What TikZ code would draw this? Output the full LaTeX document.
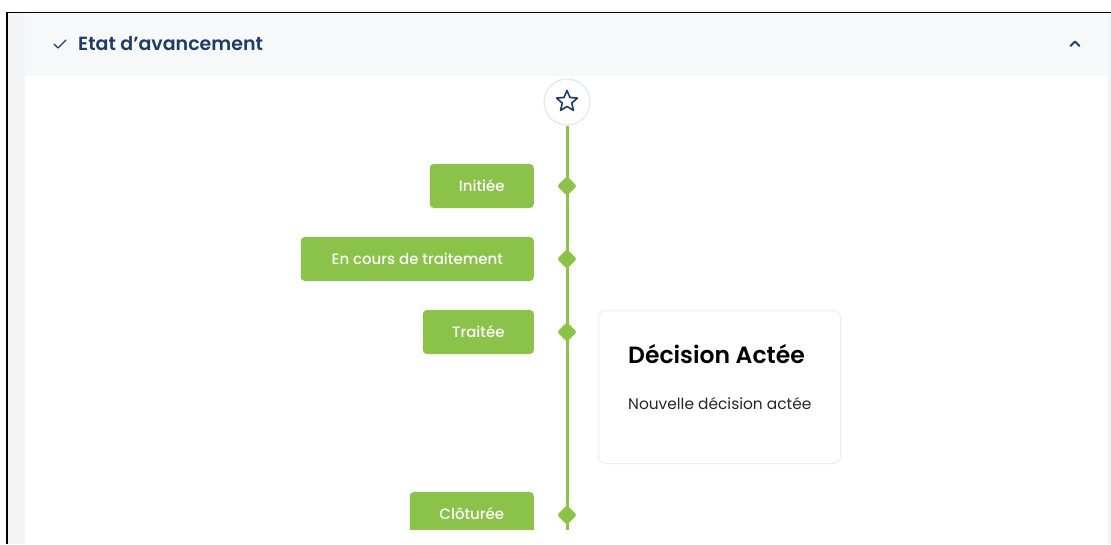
\documentclass[tikz,border=0pt]{standalone}
\usepackage{fontspec}
\IfFontExistsTF{Poppins SemiBold}{\setmainfont{Poppins}[BoldFont=Poppins SemiBold]}{\setmainfont{Poppins}}
\IfFontExistsTF{Poppins Medium}{\newfontfamily\popmed{Poppins Medium}}{\newfontfamily\popmed{Poppins}}
\usetikzlibrary{shapes.geometric}
\definecolor{grn}{HTML}{8BC34A}
\definecolor{navy}{HTML}{1E3D66}
\definecolor{bandgray}{HTML}{F7F8FA}
\definecolor{stripgray}{HTML}{F3F4F6}
\definecolor{cardline}{HTML}{EDEFF2}
\definecolor{circline}{HTML}{E3E7EC}
\tikzset{
  status/.style={fill=grn, text=white, rounded corners=4pt, anchor=east,
    minimum height=44pt, inner xsep=0pt, font=\popmed\fontsize{15}{18}\selectfont},
  knot/.style={diamond, fill=grn, inner sep=0pt, minimum size=20pt, rounded corners=2.5pt},
}
\begin{document}
\begin{tikzpicture}[x=1pt,y=-1pt]
\useasboundingbox (0,0) rectangle (1111,544);
\fill[white] (0,0) rectangle (1111,544);
% side strips and header band
\fill[stripgray] (8,13) rectangle (25,544);
\fill[stripgray] (1108,13) rectangle (1111,544);
\fill[bandgray] (25,13) rectangle (1108,76);
% black frame
\draw[black, line width=1.6pt] (7,544) -- (7,12.5) -- (1111,12.5);
% header
\node[anchor=base west, text=navy, font=\fontsize{19}{22}\selectfont\bfseries, inner sep=0pt] (title) at (78,50) {Etat d’avancement};
\draw[navy, line width=1.2pt, line cap=round, line join=round] (54,44) -- (58,48) -- (66,40);
\draw[navy, line width=2pt, line cap=round, line join=round] (1070.5,46) -- (1075,41.5) -- (1079.5,46);
\begin{scope}
\clip (25,76) rectangle (1108,529);
% star circle
\node[circle, draw=circline, line width=1.2pt, fill=white, minimum size=46pt, inner sep=0pt] (circ) at (567,102) {};
\node[star, star points=5, star point ratio=2.2, draw=navy, line width=1.6pt, line join=round, minimum size=22pt, inner sep=0pt] (star) at (567,101.5) {};
% timeline
\coordinate (tend) at (567,560);
\draw[grn, line width=3pt] (circ.south) -- (tend);
\node[knot] (k1) at (567,186) {};
\node[knot] (k2) at (567,259) {};
\node[knot] (k3) at (567,332) {};
\node[knot] (k4) at (567,515) {};
% status boxes
\node[status, minimum width=104pt] (s1) at (534,186) {Initiée};
\node[status, minimum width=233pt] (s2) at (534,259) {En cours de traitement};
\node[status, minimum width=111pt] (s3) at (534,332) {Traitée};
\node[status, minimum width=124pt] (s4) at (534,514) {Clôturée};
% card
\node[draw=cardline, line width=1pt, fill=white, rounded corners=7pt, minimum width=242pt, minimum height=153pt, anchor=north west] (card) at (598,310) {};
\node[anchor=base west, inner sep=0pt, font=\fontsize{23.5}{27}\selectfont\bfseries] (ctitle) at (628,363) {Décision Actée};
\node[anchor=base west, inner sep=0pt, text=black!85, font=\fontsize{15.4}{18}\selectfont] (ctext) at (628,409) {Nouvelle décision actée};
\end{scope}
\end{tikzpicture}
\end{document}
